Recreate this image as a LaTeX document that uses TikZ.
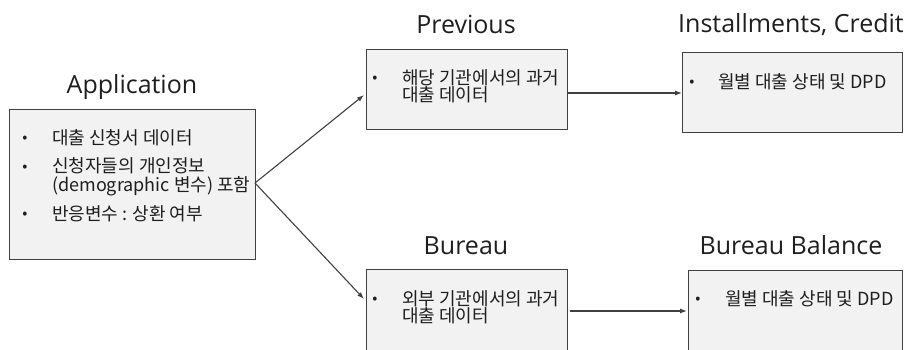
\documentclass[tikz,border=0pt]{standalone}
\usepackage{fontspec}
\setmainfont{Noto Sans CJK KR}
\newfontfamily\ttlfont{Open Sans}
\usetikzlibrary{arrows.meta}
\definecolor{boxfill}{HTML}{F2F2F2}
\definecolor{edgecol}{HTML}{404040}
\definecolor{ink}{HTML}{1E1E1E}
\begin{document}
\begin{tikzpicture}[x=1pt,y=-1pt,
  box/.style={draw=edgecol, fill=boxfill, line width=1.1pt, inner sep=0, anchor=north west},
  ttl/.style={anchor=base, font=\ttlfont\fontsize{25}{28}\selectfont, text=ink, inner sep=0},
  txt/.style={anchor=west, font=\fontsize{18}{21}\selectfont, text=ink, inner sep=0},
  txttwo/.style={anchor=west, align=left, font=\fontsize{18}{17}\selectfont, text=ink, inner sep=0},
  bul/.style={font=\fontsize{15}{17}\selectfont, text=ink, inner sep=0},
  conn/.style={draw=edgecol, line width=1.1pt, -{Latex[length=7pt,width=5pt]}}]
\useasboundingbox (0,0) rectangle (905,349);
\clip (0,0) rectangle (905,349);

% boxes
\node[box, minimum width=246, minimum height=150] (app) at (9,109) {};
\node[box, minimum width=201, minimum height=80] (prev) at (366,49) {};
\node[box, minimum width=220, minimum height=80] (inst) at (682,52) {};
\node[box, minimum width=201, minimum height=100] (bur) at (366,269) {};
\node[box, minimum width=214, minimum height=100] (bal) at (688,270) {};

% titles
\node[ttl] (tapp) at (132,93) {Application};
\node[ttl] (tprev) at (466,33) {Previous};
\node[ttl] (tinst) at (791,32) {Installments, Credit};
\node[ttl] (tbur) at (466,254) {Bureau};
\node[ttl] (tbal) at (791,254) {Bureau Balance};

% Application text
\node[bul] (ab1) at (25,139) {•};
\node[txt] (a1) at (52,138) {대출 신청서 데이터};
\node[bul] (ab2) at (25,168) {•};
\node[txttwo, font=\fontsize{18}{19}\selectfont] (a2) at (52,176.5) {신청자들의 개인정보\\(demographic 변수) 포함};
\node[bul] (ab3) at (25,215) {•};
\node[txt] (a4) at (52,214) {반응변수 : 상환 여부};

% Previous text
\node[bul] (pb1) at (375,79) {•};
\node[txttwo] (p1) at (402,86.5) {해당 기관에서의 과거\\대출 데이터};

% Installments text
\node[bul] (ib1) at (692,83) {•};
\node[txt] (i1) at (718,82) {월별 대출 상태 및 DPD};

% Bureau text
\node[bul] (bb1) at (375,300) {•};
\node[txttwo] (b1) at (402,307) {외부 기관에서의 과거\\대출 데이터};

% Bureau Balance text
\node[bul] (lb1) at (698,300) {•};
\node[txt] (l1) at (725,299) {월별 대출 상태 및 DPD};

% connector ends
\coordinate (appout) at (255,183);
\coordinate (previn) at (364,95);
\coordinate (burin) at (364,299);
\coordinate (prevout) at (567,93);
\coordinate (instin) at (682,93);
\coordinate (burout) at (570,311);
\coordinate (balin) at (687,311);

\draw[conn] (appout) -- (previn);
\draw[conn] (appout) -- (burin);
\draw[conn] (prevout) -- (instin);
\draw[conn] (burout) -- (balin);
\end{tikzpicture}
\end{document}
